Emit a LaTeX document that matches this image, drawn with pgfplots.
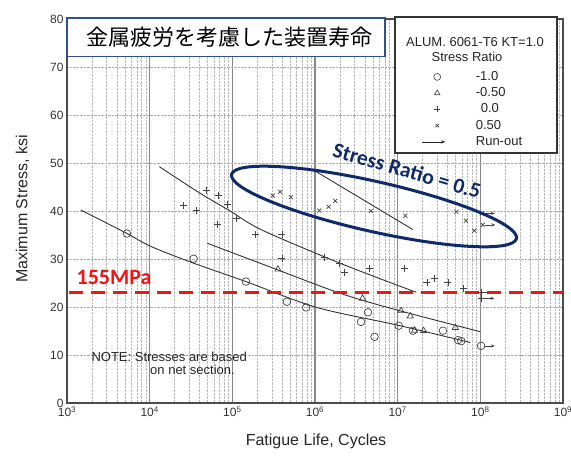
\documentclass[border=0pt]{standalone}
\usepackage{fontspec}
\setmainfont{Liberation Sans}
\newfontfamily\cjk{Noto Sans CJK JP}
\newfontfamily\calibri{Carlito}
\usepackage{pgfplots}
\pgfplotsset{compat=1.18}
\usetikzlibrary{arrows.meta,calc}
\definecolor{navy}{HTML}{0F2A6B}
\definecolor{tbox}{HTML}{2F4F8F}
\definecolor{mk}{HTML}{444444}
\definecolor{fitc}{HTML}{333333}
\definecolor{grd}{HTML}{888888}
\definecolor{redl}{HTML}{F01414}
\pgfplotsset{legmark/.style={legend image code/.code={\path[draw=none,fill=none] (0pt,-3pt) rectangle (23pt,3pt); \draw[##1] plot coordinates {(15pt,0pt)};}}}
\begin{document}
\begin{tikzpicture}
\begin{axis}[
  scale only axis, width=496pt, height=384pt,
  xmode=log, log basis x=10,
  xmin=1e3, xmax=1e9, ymin=0, ymax=80,
  xtick={1e3,1e4,1e5,1e6,1e7,1e8,1e9},
  xticklabels={10\textsuperscript{3},10\textsuperscript{4},10\textsuperscript{5},10\textsuperscript{6},10\textsuperscript{7},10\textsuperscript{8},10\textsuperscript{9}},
  minor xtick={2e3,3e3,4e3,5e3,6e3,7e3,8e3,9e3,2e4,3e4,4e4,5e4,6e4,7e4,8e4,9e4,2e5,3e5,4e5,5e5,6e5,7e5,8e5,9e5,2e6,3e6,4e6,5e6,6e6,7e6,8e6,9e6,2e7,3e7,4e7,5e7,6e7,7e7,8e7,9e7,2e8,3e8,4e8,5e8,6e8,7e8,8e8,9e8},
  ytick={0,10,...,80},
  xmajorgrids, xminorgrids, ymajorgrids,
  major x grid style={grd, line width=1.2pt},
  minor x grid style={grd!60, densely dotted, line width=0.5pt},
  major y grid style={grd!70, densely dotted, line width=0.6pt},
  axis line style={draw=black!70, line width=1.3pt},
  major tick length=0pt, minor tick length=0pt,
  tick label style={font=\fontsize{12}{14}\selectfont, text=black!80},
  /pgf/number format/assume math mode=true,
  clip mode=individual,
  legend style={draw=none, fill=none, inner sep=0pt, column sep=30.3pt, row sep=4.25pt,
    nodes={inner sep=0pt, text height=9.5pt, text depth=2.5pt},
    font=\fontsize{13}{15}\selectfont, text=black!85,
    at={(rel axis cs:0.7151,0.8654)}, anchor=north west},
  legend cell align=left,
]
% fitted curves
\addplot[fitc, line width=0.9pt, smooth, forget plot] coordinates {(1.47e3,40.2) (5.28e3,35.35) (1.01e4,32.7) (3.08e4,29.4) (1.455e5,25.3) (1.054e6,19.9) (9.8e6,16.25) (7.57e7,12.6)};
\addplot[fitc, line width=0.9pt, smooth, forget plot] coordinates {(5.0e4,33.27) (2.87e5,28.33) (2.02e6,22.85) (9.8e6,19.375) (1e8,14.85)};
\addplot[fitc, line width=0.9pt, smooth, forget plot] coordinates {(1.31e4,49.23) (4.07e4,43.7) (9.4e4,40.0) (2.28e5,36.04) (2.02e6,29.1) (1.68e7,23.06)};
\addplot[fitc, line width=0.9pt, forget plot] coordinates {(9.16e5,48.75) (1.52e7,36.15)};
% data
\addplot[only marks, mark=o, mark size=3.8pt, mk, mark options={line width=0.7pt}, forget plot] coordinates {(5.3e3,35.3) (3.4e4,30.06) (1.46e5,25.3) (4.57e5,21.1) (7.83e5,19.9) (3.6e6,16.9) (4.37e6,18.9) (5.25e6,13.8) (1.03e7,16.1) (1.53e7,15.06) (3.53e7,15.06) (5.37e7,13.1) (5.89e7,12.9) (1.02e8,11.9)};
\addplot[only marks, mark=triangle, mark size=3.6pt, mk, mark options={line width=0.7pt}, forget plot] coordinates {(3.56e5,27.85) (3.76e6,21.8) (1.1e7,19.2) (1.42e7,18.1) (1.6e7,15.1) (2.06e7,15.06) (4.98e7,15.7)};
\addplot[only marks, mark=+, mark size=3.5pt, mk, mark options={line width=0.7pt}, forget plot] coordinates {(2.56e4,41.1) (3.65e4,40.2) (4.91e4,44.2) (6.79e4,43.2) (6.6e4,37.2) (8.77e4,41.4) (1.12e5,38.4) (1.89e5,35.2) (3.98e5,35.2) (3.98e5,30.15) (1.31e6,30.35) (1.98e6,29.1) (2.26e6,27.2) (4.57e6,28.0) (1.2e7,28.0) (2.26e7,25.1) (2.77e7,26.0) (4.06e7,25.1) (6.28e7,23.9) (1.02e8,23.0) (1.02e8,21.8)};
\addplot[only marks, mark=x, mark size=2.8pt, mk, mark options={line width=0.7pt}, forget plot] coordinates {(3.09e5,43.2) (3.79e5,44.0) (5.1e5,42.85) (1.13e6,40.1) (1.46e6,40.9) (1.76e6,42.1) (4.74e6,40.0) (1.24e7,39.0) (5.12e7,39.85) (6.7e7,38.0) (8.45e7,35.9) (1.04e8,39.5) (1.07e8,37.1)};
% run-out arrows
\addplot[mk, line width=0.7pt, -{Stealth[length=4pt,width=3.2pt]}, forget plot] coordinates {(1.12e8,11.9) (1.5e8,11.9)};
\addplot[mk, line width=0.7pt, -{Stealth[length=4pt,width=3.2pt]}, forget plot] coordinates {(1.1e8,23.0) (1.48e8,23.0)};
\addplot[mk, line width=0.7pt, -{Stealth[length=4pt,width=3.2pt]}, forget plot] coordinates {(1.1e8,21.8) (1.48e8,21.8)};
\addplot[mk, line width=0.7pt, -{Stealth[length=4pt,width=3.2pt]}, forget plot] coordinates {(1.1e8,39.5) (1.5e8,39.5)};
\addplot[mk, line width=0.7pt, -{Stealth[length=4pt,width=3.2pt]}, forget plot] coordinates {(1.13e8,37.1) (1.52e8,37.1)};
% 155 MPa line
\addplot[redl, line width=3.5pt, dash pattern=on 14pt off 8pt, forget plot] coordinates {(1.05e3,23.0) (1e9,23.0)};
% annotations
\draw[tbox, line width=1.3pt, fill=white] (rel axis cs:0,1.0026) rectangle (rel axis cs:0.6411,0.9018);
\node[font=\cjk\fontsize{22}{24}\selectfont, text=black] at (rel axis cs:0.3276,0.9518) {金属疲労を考慮した装置寿命};
\draw[black!80, line width=1.1pt, fill=white] (rel axis cs:0.6613,1.0052) rectangle (rel axis cs:0.9879,0.6510);
\node[font=\fontsize{13}{15}\selectfont, text=black!85] at (rel axis cs:0.8226,0.9409) {ALUM. 6061-T6 KT=1.0};
\node[font=\fontsize{13}{15}\selectfont, text=black!85] at (rel axis cs:0.8065,0.9018) {Stress Ratio};
\node[font=\calibri\bfseries\fontsize{22}{24}\selectfont, text=redl] at (rel axis cs:0.0948,0.3268) {155MPa};
\node[font=\fontsize{13}{15}\selectfont, text=black!85] at (rel axis cs:0.2060,0.1206) {NOTE: Stresses are based};
\node[font=\fontsize{13}{15}\selectfont, text=black!85] at (rel axis cs:0.2530,0.0859) {on net section.};
\draw[navy, line width=3pt, rotate around={-12.7:(rel axis cs:0.6190,0.5117)}] (rel axis cs:0.6190,0.5117) ellipse [x radius=146pt, y radius=25pt];
\node[font=\calibri\bfseries\fontsize{21.5}{23}\selectfont, text=navy, rotate=-16, inner sep=0pt] at (rel axis cs:0.6855,0.6055) {Stress Ratio = 0.5};
% legend
\addlegendimage{only marks, mark=o, mk, mark size=3.5pt, mark options={line width=0.6pt}, legmark}
\addlegendentry{-1.0}
\addlegendimage{only marks, mark=triangle, mk, mark size=3.2pt, mark options={line width=0.6pt}, legmark}
\addlegendentry{-0.50}
\addlegendimage{only marks, mark=+, mk, mark size=3pt, mark options={line width=0.6pt}, legmark}
\addlegendentry{\hspace{5pt}0.0}
\addlegendimage{only marks, mark=x, mk, mark size=2.5pt, mark options={line width=0.6pt}, legmark}
\addlegendentry{0.50}
\addlegendimage{legend image code/.code={\path[draw=none,fill=none] (0pt,-3pt) rectangle (23pt,3pt); \draw[black!85, line width=0.7pt, -{Stealth[length=4pt,width=3.2pt]}] (0pt,0pt) -- (23pt,0pt);}}
\addlegendentry{Run-out}
\end{axis}
\node[rotate=90, font=\fontsize{16}{18}\selectfont, text=black!85] at ($(current axis.south west)+(-44.5pt,194pt)$) {Maximum Stress, ksi};
\node[font=\fontsize{16}{18}\selectfont, text=black!85] at ($(current axis.south west)+(249pt,-38pt)$) {Fatigue Life, Cycles};
\pgfresetboundingbox
\path ($(current axis.south west)+(-67pt,-52pt)$) rectangle ($(current axis.north east)+(8pt,19pt)$);
\end{tikzpicture}
\end{document}
